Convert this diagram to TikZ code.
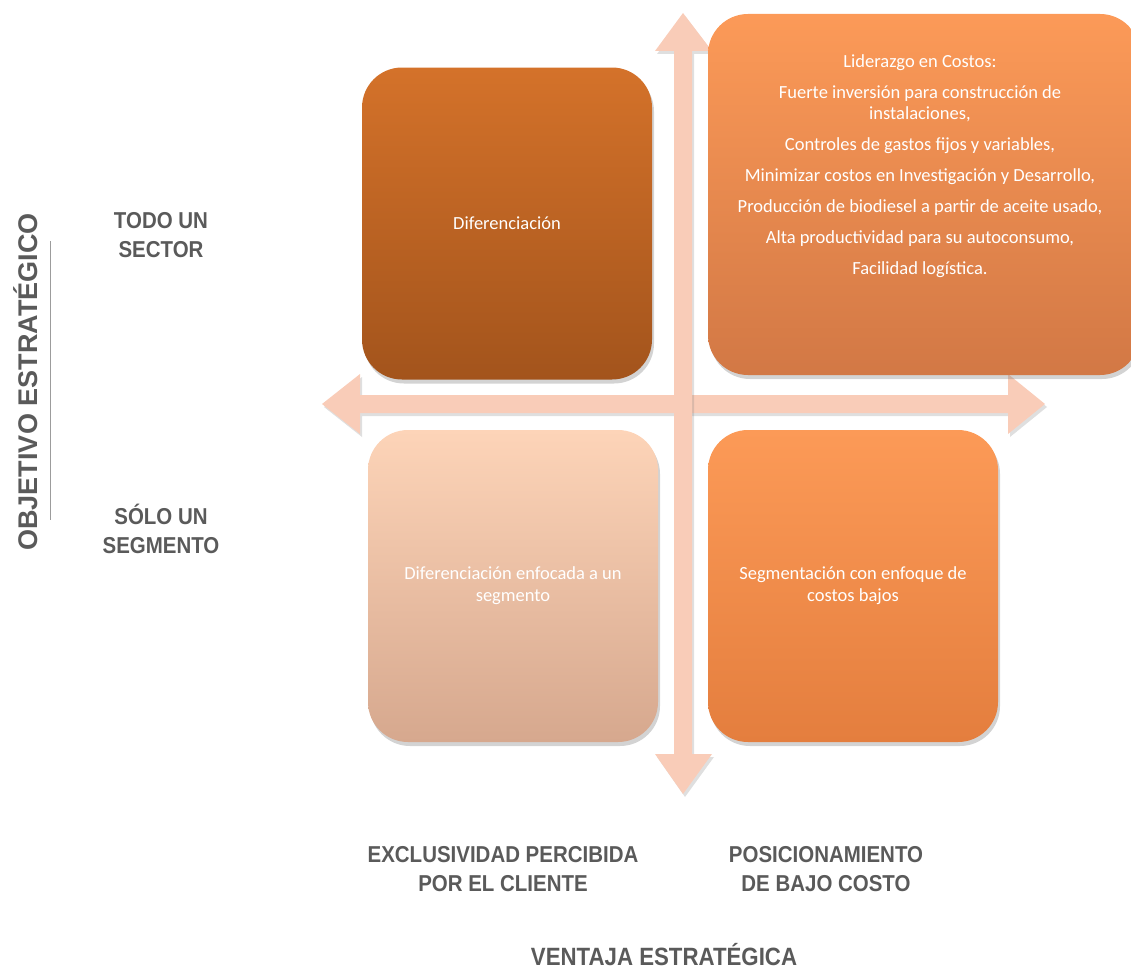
\documentclass[tikz,border=0pt]{standalone}
\usepackage{fontspec}
\setmainfont{Carlito}
\newfontfamily\rotulofont[FakeStretch=0.89]{Liberation Sans}
\newfontfamily\ejefont{Liberation Sans}
\usetikzlibrary{shadows}

\definecolor{ejecolor}{HTML}{F9CCB8}
\definecolor{grisrotulo}{HTML}{5A5A5A}
\definecolor{difarriba}{HTML}{D4722A}
\definecolor{difabajo}{HTML}{A3541C}
\definecolor{lidarriba}{HTML}{FC9A58}
\definecolor{lidabajo}{HTML}{D27845}
\definecolor{enfarriba}{HTML}{FDD4B8}
\definecolor{enfabajo}{HTML}{D6A88E}
\definecolor{segarriba}{HTML}{FC9A57}
\definecolor{segabajo}{HTML}{E47E3E}

\tikzset{
  caja/.style={rounded corners=40pt, minimum width=290pt, minimum height=312pt,
    text=white, align=center, font=\fontsize{18.5}{22}\selectfont,
    drop shadow={shadow xshift=2pt, shadow yshift=-4pt, opacity=0.35}},
  rotulo/.style={text=grisrotulo, align=center,
    font=\rotulofont\bfseries\fontsize{23}{29}\selectfont},
  eje/.style={fill=ejecolor, draw=none,
    drop shadow={shadow xshift=2pt, shadow yshift=-3pt, opacity=0.25}}
}

\begin{document}
\begin{tikzpicture}[x=1pt, y=-1pt]

  \useasboundingbox (0,0) rectangle (1131,974);

  % ejes
  \fill[eje] (322,404) -- (360,374) -- (360,395) -- (1008,395) -- (1008,374)
    -- (1045,404) -- (1008,434) -- (1008,413) -- (360,413) -- (360,434) -- cycle;
  \fill[eje] (683,13) -- (712,51) -- (692,51) -- (692,754) -- (712,754)
    -- (683,794) -- (655,754) -- (674,754) -- (674,51) -- (655,51) -- cycle;

  % cuadrantes
  \node[caja, top color=difarriba, bottom color=difabajo] (dif) at (507,223.5) {Diferenciaci\'on};
  \node[caja, top color=lidarriba, bottom color=lidabajo,
        minimum width=432pt, minimum height=361pt] (lid) at (924,194.5) {};
  \node[caja, top color=enfarriba, bottom color=enfabajo] (enf) at (513,586)
    {Diferenciaci\'on enfocada a un\\segmento};
  \node[caja, top color=segarriba, bottom color=segabajo] (seg) at (853,586)
    {Segmentaci\'on con enfoque de\\costos bajos};

  \node[anchor=north, text=white, align=center, font=\fontsize{18.5}{21}\selectfont] (lid-txt) at (920,51)
    {Liderazgo en Costos:\\[10pt]
     Fuerte inversi\'on para construcci\'on de\\instalaciones,\\[10pt]
     Controles de gastos fijos y variables,\\[10pt]
     Minimizar costos en Investigaci\'on y Desarrollo,\\[10pt]
     Producci\'on de biodiesel a partir de aceite usado,\\[10pt]
     Alta productividad para su autoconsumo,\\[10pt]
     Facilidad log\'istica.};

  % rotulos
  \node[rotulo] (todo) at (161,235) {TODO UN\\SECTOR};
  \node[rotulo] (solo) at (161,529) {S\'OLO UN\\SEGMENTO};
  \node[rotulo, rotate=90, font=\ejefont\bfseries\fontsize{27}{29}\selectfont] (objetivo) at (26,382) {OBJETIVO ESTRAT\'EGICO};
  \draw[grisrotulo!60, line width=1pt] (50,241) -- (50,520);

  \node[rotulo] (exclus) at (503,869) {EXCLUSIVIDAD PERCIBIDA\\POR EL CLIENTE};
  \node[rotulo] (posic) at (826,869) {POSICIONAMIENTO\\DE BAJO COSTO};
  \node[rotulo, font=\rotulofont\bfseries\fontsize{25}{29}\selectfont] (ventaja) at (664,955) {VENTAJA ESTRAT\'EGICA};

\end{tikzpicture}
\end{document}
